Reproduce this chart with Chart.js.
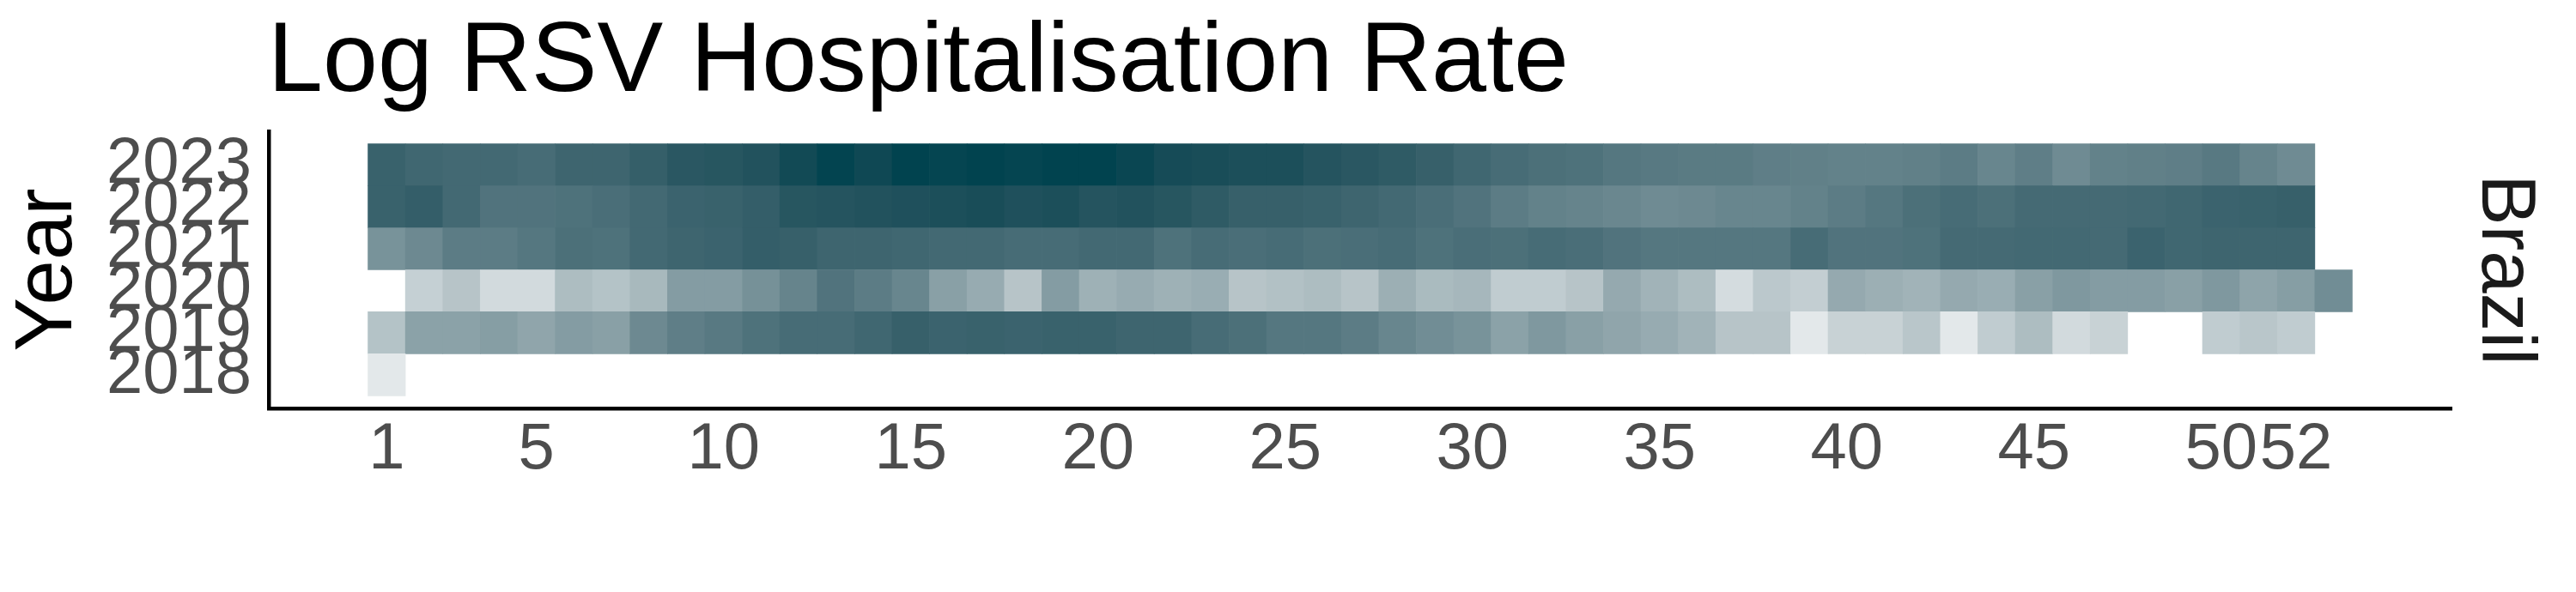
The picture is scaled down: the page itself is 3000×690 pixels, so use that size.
<!DOCTYPE html>
<html>
<head>
<meta charset="utf-8">
<script src="https://cdn.jsdelivr.net/npm/chart.js@4.4.1/dist/chart.umd.min.js"></script>
<style>
  html, body { margin: 0; padding: 0; background: #ffffff; }
  #wrap { width: 3000px; height: 690px; }
</style>
</head>
<body>
<div id="wrap"><canvas id="c" width="3000" height="690"></canvas></div>
<script>
// ---------------- DATA ----------------
const chartTitle = "Log RSV Hospitalisation Rate";
const yAxisTitle = "Year";
const facetLabel = "Brazil";

const weeks = [1,2,3,4,5,6,7,8,9,10,11,12,13,14,15,16,17,18,19,20,21,22,23,24,25,26,27,28,29,30,
               31,32,33,34,35,36,37,38,39,40,41,42,43,44,45,46,47,48,49,50,51,52,53];
const years = [2018, 2019, 2020, 2021, 2022, 2023];
const xTickValues = [1, 5, 10, 15, 20, 25, 30, 35, 40, 45, 50, 52];

// normalised log hospitalisation rate per week (null = no observation)
const rate2018 = [0.11];
const rate2019 = [0.30,0.47,0.47,0.49,0.45,0.50,0.48,0.60,0.66,0.69,0.73,0.76,0.76,0.79,0.83,0.81,0.82,0.81,
                  0.82,0.82,0.80,0.80,0.76,0.74,0.70,0.70,0.67,0.62,0.58,0.55,0.47,0.52,0.48,0.45,0.42,
                  0.38,0.29,0.29,0.11,0.22,0.22,0.28,0.11,0.25,0.33,0.18,0.22,null,null,0.25,0.28,0.25,null];
const rate2020 = [null,0.23,0.29,0.18,0.18,0.33,0.30,0.35,0.50,0.50,0.56,0.63,0.72,0.67,0.62,0.48,0.42,0.29,
                  0.50,0.39,0.42,0.39,0.41,0.29,0.31,0.33,0.29,0.40,0.34,0.36,0.25,0.25,0.29,0.43,0.38,
                  0.33,0.17,0.27,0.24,0.43,0.40,0.38,0.43,0.41,0.48,0.52,0.50,0.50,0.48,0.52,0.46,0.49,0.58];
const rate2021 = [0.55,0.60,0.67,0.67,0.70,0.74,0.73,0.78,0.80,0.81,0.84,0.83,0.80,0.80,0.79,0.78,0.78,0.76,
                  0.76,0.78,0.78,0.73,0.76,0.75,0.76,0.74,0.75,0.76,0.73,0.75,0.74,0.76,0.75,0.72,0.70,
                  0.70,0.70,0.70,0.76,0.72,0.72,0.73,0.77,0.77,0.78,0.78,0.77,0.81,0.79,0.80,0.80,0.80,null];
const rate2022 = [0.82,0.84,0.78,0.72,0.72,0.73,0.75,0.78,0.81,0.82,0.84,0.89,0.90,0.91,0.92,0.93,0.94,0.92,
                  0.93,0.90,0.91,0.89,0.86,0.83,0.83,0.82,0.80,0.78,0.75,0.72,0.67,0.64,0.63,0.61,0.59,
                  0.60,0.62,0.62,0.64,0.67,0.70,0.74,0.76,0.74,0.77,0.77,0.77,0.78,0.79,0.81,0.82,0.83,null];
const rate2023 = [0.82,0.79,0.78,0.78,0.76,0.80,0.80,0.835,0.88,0.89,0.91,0.96,0.995,0.97,1.00,0.99,1.00,0.99,
                  1.00,1.00,0.98,0.95,0.94,0.93,0.93,0.90,0.88,0.86,0.83,0.79,0.76,0.74,0.73,0.70,0.69,
                  0.68,0.68,0.66,0.65,0.64,0.64,0.65,0.67,0.62,0.66,0.59,0.64,0.65,0.66,0.69,0.63,0.59,null];
const ratesByYear = [rate2018, rate2019, rate2020, rate2021, rate2022, rate2023];

// colour scale (gradient white -> dark teal, interpolated in Lab like ggplot)
const fillLow = "#ffffff";
const fillHigh = "#01434f";
const fillDomain = [0, 1];

// ---------------- COLOUR HELPERS ----------------
function hexToRgb(h) { h = h.replace('#',''); return [parseInt(h.slice(0,2),16), parseInt(h.slice(2,4),16), parseInt(h.slice(4,6),16)]; }
function s2l(c) { c /= 255; return c <= 0.04045 ? c / 12.92 : Math.pow((c + 0.055) / 1.055, 2.4); }
function l2s(c) { c = c <= 0.0031308 ? 12.92 * c : 1.055 * Math.pow(c, 1/2.4) - 0.055; return Math.round(Math.max(0, Math.min(1, c)) * 255); }
function rgbToLab(rgb) {
  const R = s2l(rgb[0]), G = s2l(rgb[1]), B = s2l(rgb[2]);
  const x = (0.4124*R + 0.3576*G + 0.1805*B) / 0.95047;
  const y = (0.2126*R + 0.7152*G + 0.0722*B);
  const z = (0.0193*R + 0.1192*G + 0.9505*B) / 1.08883;
  const f = t => t > 0.008856 ? Math.cbrt(t) : 7.787*t + 16/116;
  const fx = f(x), fy = f(y), fz = f(z);
  return [116*fy - 16, 500*(fx - fy), 200*(fy - fz)];
}
function labToRgb(lab) {
  const fy = (lab[0] + 16) / 116, fx = fy + lab[1] / 500, fz = fy - lab[2] / 200;
  const inv = t => (t*t*t > 0.008856) ? t*t*t : (t - 16/116) / 7.787;
  const x = inv(fx) * 0.95047, y = inv(fy), z = inv(fz) * 1.08883;
  const R = 3.2406*x - 1.5372*y - 0.4986*z;
  const G = -0.9689*x + 1.8758*y + 0.0415*z;
  const B = 0.0557*x - 0.2040*y + 1.0570*z;
  return [l2s(R), l2s(G), l2s(B)];
}
const labLow = rgbToLab(hexToRgb(fillLow));
const labHigh = rgbToLab(hexToRgb(fillHigh));
function fillFor(v) {
  if (v == null) return 'rgba(0,0,0,0)';
  let t = (v - fillDomain[0]) / (fillDomain[1] - fillDomain[0]);
  t = Math.max(0, Math.min(1, t));
  const lab = [0,1,2].map(i => labLow[i] + (labHigh[i] - labLow[i]) * t);
  const c = labToRgb(lab);
  return `rgb(${c[0]},${c[1]},${c[2]})`;
}

// ---------------- CHART ----------------
const FONT = "'Liberation Sans', Arial, Helvetica, sans-serif";

const datasets = years.map((yr, i) => {
  const row = ratesByYear[i];
  const pts = [];
  weeks.forEach((w, j) => {
    const v = row[j];
    if (v !== undefined && v !== null) pts.push({ x: w, y: [yr - 0.5, yr + 0.5], v: v });
  });
  return {
    label: String(yr),
    data: pts,
    backgroundColor: ctx => fillFor(ctx.raw ? ctx.raw.v : null),
    borderWidth: 0,
    barPercentage: 1,
    categoryPercentage: 1,
    grouped: false
  };
});

const textPlugin = {
  id: 'ggtext',
  afterDraw(chart) {
    const ctx = chart.ctx;
    const a = chart.chartArea;
    ctx.save();
    // title
    ctx.fillStyle = '#000000';
    ctx.font = `115px ${FONT}`;
    ctx.textAlign = 'left';
    ctx.textBaseline = 'alphabetic';
    ctx.fillText(chartTitle, a.left - 1, 106);
    // y axis title
    ctx.save();
    ctx.translate(57.5, (a.top + a.bottom) / 2);
    ctx.rotate(-Math.PI / 2);
    ctx.font = `94px ${FONT}`;
    ctx.textAlign = 'center';
    ctx.textBaseline = 'middle';
    ctx.fillText(yAxisTitle, 0, 0);
    ctx.restore();
    // facet strip label
    ctx.save();
    ctx.translate(2916, (a.top + a.bottom) / 2);
    ctx.rotate(Math.PI / 2);
    ctx.font = `89px ${FONT}`;
    ctx.fillStyle = '#1a1a1a';
    ctx.textAlign = 'center';
    ctx.textBaseline = 'middle';
    ctx.fillText(facetLabel, 0, 0);
    ctx.restore();
    ctx.restore();
  }
};

new Chart(document.getElementById('c'), {
  type: 'bar',
  data: { datasets },
  options: {
    responsive: false,
    animation: false,
    devicePixelRatio: 1,
    layout: { padding: { top: 153, right: 145, bottom: 0, left: 0 } },
    plugins: {
      legend: { display: false },
      tooltip: { enabled: false },
      title: { display: false }
    },
    scales: {
      x: {
        type: 'linear',
        offset: false,
        min: -2.15,
        max: 56.15,
        grid: { display: false, drawTicks: false, tickLength: 0, offset: false },
        border: { display: true, color: '#000000', width: 4.5 },
        afterBuildTicks: s => { s.ticks = xTickValues.map(v => ({ value: v })); },
        afterFit: s => { s.height = 214; },
        ticks: {
          autoSkip: false, maxRotation: 0, minRotation: 0,
          padding: 3,
          color: '#4d4d4d',
          font: { family: FONT, size: 76 },
          callback: v => String(v)
        }
      },
      y: {
        type: 'linear',
        min: 2017.2,
        max: 2023.8,
        grid: { display: false, drawTicks: false, tickLength: 0 },
        border: { display: true, color: '#000000', width: 4.5 },
        afterBuildTicks: s => { s.ticks = years.map(v => ({ value: v })); },
        afterFit: s => { s.width = 313; },
        ticks: {
          autoSkip: false,
          padding: 20,
          color: '#4d4d4d',
          font: { family: FONT, size: 76 },
          callback: v => String(v)
        }
      }
    }
  },
  plugins: [textPlugin]
});
</script>
</body>
</html>
